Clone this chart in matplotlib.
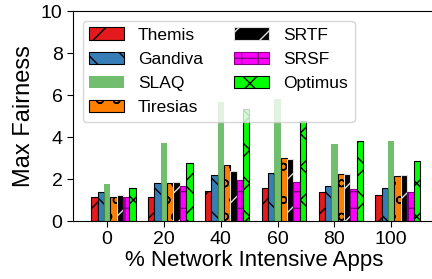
import matplotlib
matplotlib.use("Agg")
import matplotlib.pyplot as plt
import numpy as np

plt.rcParams['font.family'] = ['Liberation Sans', 'DejaVu Sans']
plt.rcParams['hatch.linewidth'] = 1.0

groups = ["0", "20", "40", "60", "80", "100"]
themis = [1.14, 1.15, 1.44, 1.58, 1.38, 1.26]
gandiva = [1.38, 1.79, 2.21, 2.29, 1.66, 1.55]
slaq = [1.78, 3.70, 5.65, 5.81, 3.65, 3.79]
tiresias = [1.14, 1.81, 2.69, 2.98, 2.26, 2.14]
srtf = [1.22, 1.84, 2.37, 2.94, 2.24, 2.21]
srsf = [1.14, 1.68, 1.95, 1.87, 1.54, 1.39]
optimus = [1.57, 2.77, 5.31, 4.77, 3.79, 2.86]

fig = plt.figure(figsize=(4.32, 2.79), dpi=100)
ax = fig.add_axes([73/432, 58/279, 362/432, 210/279])

x = np.arange(len(groups))
w = 0.112

ax.bar(x - 2*w, themis, w, color='#e41a1c', edgecolor='black', hatch='/', lw=0.8, label='Themis')
ax.bar(x - w, gandiva, w, color='#377eb8', edgecolor='black', hatch='\\', lw=0.8, label='Gandiva')
ax.bar(x, slaq, w, color='#4daf4a', alpha=0.8, lw=0, label='SLAQ')
ax.bar(x + w, tiresias, w, color='#ff7f00', edgecolor='black', hatch='o', lw=0.8, label='Tiresias')
ax.bar(x + 2*w, srtf, w, color='black', edgecolor='#dddddd', hatch='/', lw=0.8, label='SRTF')
ax.bar(x + 3*w, srsf, w, color='#ff00ff', edgecolor='#800080', hatch='+', lw=0.8, label='SRSF')
ax.bar(x + 4*w, optimus, w, color='#00ff00', edgecolor='black', hatch='x', lw=0.8, label='Optimus')

ax.set_xlim(-0.6, 5.77)
ax.set_ylim(0, 10)
ax.set_xticks(x)
ax.set_xticklabels(groups)
ax.set_yticks([0, 2, 4, 6, 8, 10])
ax.tick_params(labelsize=14, length=4)
ax.spines['right'].set_visible(False)
ax.set_xlabel("% Network Intensive Apps", fontsize=16, labelpad=1)
ax.set_ylabel("Max Fairness", fontsize=17, labelpad=4)

ax.legend(ncol=2, loc='upper left', fontsize=12.5, handlelength=2.0,
          handleheight=0.75, columnspacing=1.8, borderaxespad=0.55,
          labelspacing=0.5, handletextpad=0.8)

fig.savefig("out.png", dpi=100)
